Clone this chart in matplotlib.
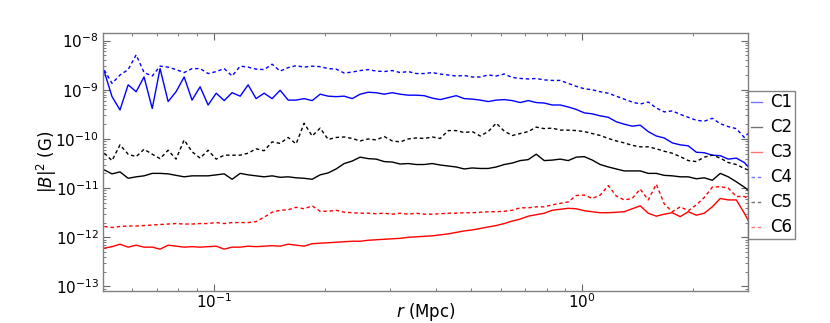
import numpy as np
import matplotlib
matplotlib.use("Agg")
import matplotlib.pyplot as plt
from matplotlib.ticker import NullFormatter

# radius (Mpc)
r_mpc = [0.0503, 0.0528, 0.0555, 0.0584, 0.0614, 0.0645, 0.0679, 0.0713, 0.0750, 0.0788,
         0.0829, 0.0871, 0.0916, 0.0963, 0.1013, 0.1065, 0.1119, 0.1177, 0.1237, 0.1300,
         0.1367, 0.1437, 0.1511, 0.1589, 0.1670, 0.1756, 0.1846, 0.1941, 0.2041, 0.2145,
         0.2256, 0.2371, 0.2493, 0.2621, 0.2756, 0.2897, 0.3046, 0.3202, 0.3367, 0.3539,
         0.3721, 0.3912, 0.4113, 0.4324, 0.4546, 0.4779, 0.5025, 0.5283, 0.5554, 0.5839,
         0.6138, 0.6453, 0.6785, 0.7133, 0.7499, 0.7884, 0.8289, 0.8714, 0.9161, 0.9631,
         1.013, 1.065, 1.119, 1.177, 1.237, 1.300, 1.367, 1.437, 1.511, 1.589,
         1.670, 1.756, 1.846, 1.941, 2.041, 2.145, 2.256, 2.371, 2.493, 2.621,
         2.756, 2.82]

# log10 of |B|^2 (G) for each series
C1 = [-8.63, -9.14, -9.41, -8.90, -9.04, -8.74, -9.38, -8.57, -9.24, -9.04,
      -8.74, -9.21, -8.94, -9.31, -9.07, -9.22, -9.06, -9.13, -8.90, -9.18,
      -9.07, -9.18, -9.01, -9.21, -9.21, -9.18, -9.22, -9.09, -9.13, -9.14,
      -9.13, -9.18, -9.09, -9.05, -9.06, -9.09, -9.06, -9.09, -9.11, -9.11,
      -9.12, -9.17, -9.20, -9.16, -9.12, -9.18, -9.19, -9.21, -9.24, -9.21,
      -9.20, -9.22, -9.26, -9.22, -9.26, -9.27, -9.31, -9.31, -9.35, -9.40,
      -9.47, -9.49, -9.53, -9.56, -9.65, -9.70, -9.74, -9.72, -9.85, -9.94,
      -9.98, -10.08, -10.12, -10.14, -10.27, -10.28, -10.33, -10.34, -10.41, -10.39,
      -10.48, -10.56]
C2 = [-10.63, -10.71, -10.67, -10.80, -10.77, -10.75, -10.70, -10.70, -10.71, -10.74,
      -10.77, -10.75, -10.75, -10.75, -10.73, -10.71, -10.82, -10.70, -10.73, -10.75,
      -10.77, -10.75, -10.78, -10.77, -10.79, -10.80, -10.82, -10.73, -10.69, -10.61,
      -10.50, -10.45, -10.37, -10.40, -10.41, -10.46, -10.47, -10.51, -10.50, -10.52,
      -10.52, -10.50, -10.53, -10.55, -10.57, -10.61, -10.59, -10.60, -10.60, -10.57,
      -10.52, -10.49, -10.44, -10.42, -10.31, -10.44, -10.43, -10.41, -10.44, -10.37,
      -10.36, -10.43, -10.52, -10.57, -10.61, -10.65, -10.65, -10.65, -10.70, -10.70,
      -10.74, -10.75, -10.77, -10.77, -10.81, -10.79, -10.84, -10.70, -10.77, -10.87,
      -10.98, -11.04]
C3 = [-12.22, -12.19, -12.14, -12.20, -12.16, -12.20, -12.20, -12.24, -12.16, -12.18,
      -12.20, -12.19, -12.20, -12.19, -12.18, -12.24, -12.20, -12.20, -12.18, -12.19,
      -12.18, -12.17, -12.18, -12.14, -12.16, -12.18, -12.13, -12.12, -12.11, -12.10,
      -12.09, -12.08, -12.08, -12.06, -12.05, -12.04, -12.03, -12.02, -12.00, -11.99,
      -11.98, -11.97, -11.95, -11.93, -11.90, -11.87, -11.85, -11.82, -11.79, -11.76,
      -11.72, -11.67, -11.63, -11.57, -11.54, -11.51, -11.45, -11.43, -11.41, -11.42,
      -11.46, -11.48, -11.50, -11.50, -11.49, -11.48, -11.42, -11.36, -11.51, -11.57,
      -11.53, -11.50, -11.58, -11.48, -11.55, -11.51, -11.38, -11.21, -11.24, -11.24,
      -11.51, -11.65]
C4 = [-8.60, -8.87, -8.70, -8.59, -8.29, -8.65, -8.72, -8.52, -8.54, -8.59,
      -8.65, -8.57, -8.57, -8.67, -8.63, -8.57, -8.72, -8.52, -8.54, -8.58,
      -8.59, -8.48, -8.62, -8.55, -8.51, -8.54, -8.52, -8.53, -8.57, -8.58,
      -8.66, -8.64, -8.61, -8.59, -8.62, -8.63, -8.61, -8.65, -8.63, -8.67,
      -8.67, -8.65, -8.68, -8.70, -8.72, -8.71, -8.74, -8.74, -8.70, -8.72,
      -8.68, -8.75, -8.77, -8.78, -8.77, -8.80, -8.81, -8.81, -8.87, -8.93,
      -8.98, -9.00, -9.04, -9.07, -9.13, -9.19, -9.25, -9.29, -9.25, -9.37,
      -9.45, -9.43, -9.50, -9.56, -9.62, -9.64, -9.58, -9.69, -9.75, -9.79,
      -9.97, -9.89]
C5 = [-10.29, -10.44, -10.12, -10.31, -10.36, -10.21, -10.31, -10.40, -10.23, -10.41,
      -10.02, -10.26, -10.39, -10.23, -10.41, -10.33, -10.33, -10.33, -10.29, -10.20,
      -10.24, -10.06, -10.09, -9.97, -10.10, -9.68, -9.94, -9.78, -10.01, -9.97,
      -9.96, -9.99, -10.04, -10.00, -10.02, -9.95, -10.04, -10.06, -10.00, -9.98,
      -9.99, -9.96, -9.99, -9.83, -9.83, -9.87, -9.85, -9.94, -9.85, -9.68,
      -9.84, -9.93, -9.89, -9.85, -9.76, -9.79, -9.78, -9.82, -9.82, -9.83,
      -9.85, -9.89, -9.93, -9.99, -10.04, -10.08, -10.13, -10.16, -10.16, -10.20,
      -10.25, -10.29, -10.36, -10.44, -10.46, -10.37, -10.33, -10.39, -10.48, -10.52,
      -10.60, -10.63]
C6 = [-11.78, -11.80, -11.78, -11.77, -11.77, -11.76, -11.75, -11.74, -11.73, -11.72,
      -11.73, -11.73, -11.72, -11.72, -11.70, -11.72, -11.70, -11.70, -11.70, -11.68,
      -11.59, -11.49, -11.45, -11.44, -11.39, -11.42, -11.36, -11.47, -11.47, -11.45,
      -11.49, -11.50, -11.51, -11.51, -11.52, -11.51, -11.53, -11.51, -11.53, -11.51,
      -11.53, -11.53, -11.52, -11.51, -11.51, -11.50, -11.50, -11.49, -11.48, -11.48,
      -11.47, -11.45, -11.40, -11.40, -11.38, -11.38, -11.34, -11.31, -11.28, -11.15,
      -11.14, -11.21, -11.14, -10.95, -11.16, -11.24, -11.21, -11.02, -11.24, -10.92,
      -11.32, -11.48, -11.38, -11.46, -11.34, -11.19, -10.98, -10.97, -11.00, -11.17,
      -11.17, -11.21]

labels = ["C1", "C2", "C3", "C4", "C5", "C6"]
series = [C1, C2, C3, C4, C5, C6]
colors = ["#0000ff", "black", "red", "#0000ff", "black", "red"]
styles = ["-", "-", "-", (0, (2.5, 2)), (0, (2.5, 2)), (0, (2.5, 2))]
x_major = [0.1, 1.0]
y_major = [1e-13, 1e-12, 1e-11, 1e-10, 1e-9, 1e-8]

W, H = 830, 323
fig = plt.figure(figsize=(W / 100, H / 100), dpi=100)
ax_l, ax_r, ax_t, ax_b = 103, 748, 32.5, 291
ax = fig.add_axes([ax_l / W, 1 - ax_b / H, (ax_r - ax_l) / W, (ax_b - ax_t) / H])

r = np.array(r_mpc)
for lab, s, c, ls in zip(labels, series, colors, styles):
    ax.plot(r, 10.0 ** np.array(s), color=c, ls=ls, lw=1.0, label=lab)

ax.set_xscale("log")
ax.set_yscale("log")
ax.set_xticks(x_major)
ax.set_yticks(y_major)
ax.set_xlim(0.0499, 2.82)
ax.set_ylim(8.1e-14, 1.46e-8)
ax.xaxis.set_minor_formatter(NullFormatter())
ax.yaxis.set_minor_formatter(NullFormatter())

for sp in ax.spines.values():
    sp.set_color("0.5")
    sp.set_linewidth(1.0)

ax.tick_params(which="both", direction="in", top=True, right=True, color="0.4",
               labelsize=11)
ax.tick_params(which="major", length=5, width=0.8)
ax.tick_params(which="minor", length=2.5, width=0.6)
ax.tick_params(axis="x", pad=1)
ax.tick_params(axis="y", pad=3)

ax.set_xlabel("$r$ (Mpc)", fontsize=12, va="center")
ax.xaxis.set_label_coords(0.5, -(312 - ax_b) / (ax_b - ax_t))
ax.set_ylabel("$|B|^2$ (G)", fontsize=12, va="center")
ax.yaxis.set_label_coords(-(ax_l - 47) / (ax_r - ax_l), 0.5)

leg = fig.legend(loc="upper left", bbox_to_anchor=(748 / W, 1 - 91 / H),
                 fontsize=12, handlelength=0.7, handletextpad=0.5,
                 borderpad=0.15, borderaxespad=0, labelspacing=0.42,
                 frameon=True, fancybox=False)
leg.get_frame().set_edgecolor("0.4")
leg.get_frame().set_linewidth(1.0)
for h in leg.get_lines():
    h.set_alpha(0.55)

fig.savefig("out.png", dpi=100)
